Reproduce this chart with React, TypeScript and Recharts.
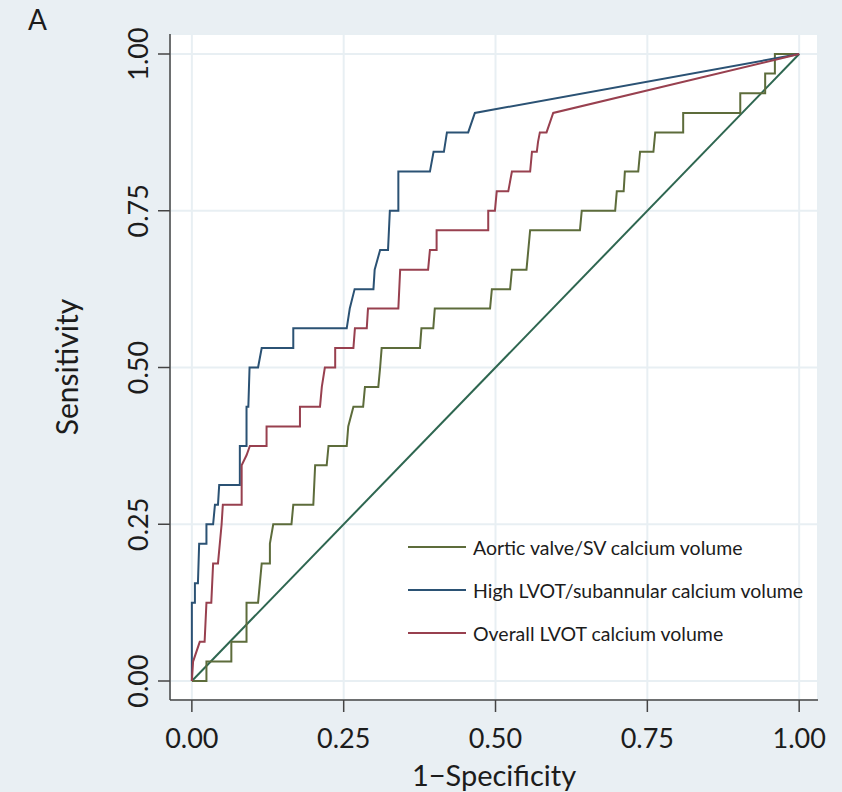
import React from 'react';
import { LineChart, Line, XAxis, YAxis, CartesianGrid, Legend } from 'recharts';

// ---- Data ----
const xTicks = [0, 0.25, 0.5, 0.75, 1];
const yTicks = [0, 0.25, 0.5, 0.75, 1];

const seriesNames = [
  'Aortic valve/SV calcium volume',
  'High LVOT/subannular calcium volume',
  'Overall LVOT calcium volume',
];

// Aortic valve/SV calcium volume (1 - specificity, sensitivity)
const aorticFpr = [0, 0.024, 0.024, 0.065, 0.065, 0.09, 0.09, 0.109, 0.112, 0.115, 0.1285, 0.1285, 0.134, 0.164, 0.167, 0.2, 0.203, 0.222, 0.225, 0.255, 0.2575, 0.266, 0.282, 0.285, 0.307, 0.31, 0.3125, 0.3756, 0.378, 0.3975, 0.4, 0.491, 0.494, 0.524, 0.527, 0.551, 0.554, 0.557, 0.639, 0.642, 0.697, 0.6997, 0.711, 0.713, 0.735, 0.738, 0.76, 0.763, 0.809, 0.809, 0.903, 0.903, 0.944, 0.944, 0.96, 0.96, 1];
const aorticTpr = [0, 0, 0.031, 0.031, 0.0625, 0.0625, 0.125, 0.125, 0.156, 0.1875, 0.1875, 0.219, 0.25, 0.25, 0.281, 0.281, 0.344, 0.344, 0.375, 0.375, 0.406, 0.4375, 0.4375, 0.469, 0.469, 0.5, 0.531, 0.531, 0.5625, 0.5625, 0.594, 0.594, 0.625, 0.625, 0.656, 0.656, 0.6875, 0.719, 0.719, 0.75, 0.75, 0.781, 0.781, 0.8125, 0.8125, 0.844, 0.844, 0.875, 0.875, 0.906, 0.906, 0.9375, 0.9375, 0.969, 0.969, 1, 1];

// High LVOT/subannular calcium volume
const highFpr = [0, 0, 0.005, 0.005, 0.01, 0.012, 0.024, 0.024, 0.035, 0.038, 0.043, 0.045, 0.079, 0.079, 0.09, 0.09, 0.093, 0.095, 0.109, 0.115, 0.167, 0.167, 0.255, 0.26, 0.268, 0.299, 0.301, 0.31, 0.323, 0.326, 0.34, 0.34, 0.392, 0.398, 0.415, 0.42, 0.455, 0.466, 1];
const highTpr = [0, 0.125, 0.125, 0.156, 0.156, 0.219, 0.219, 0.25, 0.25, 0.281, 0.281, 0.3125, 0.3125, 0.375, 0.375, 0.4375, 0.4375, 0.5, 0.5, 0.531, 0.531, 0.5625, 0.5625, 0.594, 0.625, 0.625, 0.656, 0.6875, 0.6875, 0.75, 0.75, 0.8125, 0.8125, 0.844, 0.844, 0.875, 0.875, 0.906, 1];

// Overall LVOT calcium volume
const overallFpr = [0, 0.002, 0.013, 0.021, 0.024, 0.032, 0.035, 0.043, 0.049, 0.051, 0.082, 0.082, 0.09, 0.0955, 0.123, 0.123, 0.178, 0.178, 0.211, 0.214, 0.219, 0.236, 0.236, 0.266, 0.2685, 0.288, 0.29, 0.34, 0.343, 0.389, 0.392, 0.403, 0.403, 0.488, 0.488, 0.499, 0.502, 0.521, 0.527, 0.557, 0.56, 0.568, 0.57, 0.573, 0.584, 0.595, 1];
const overallTpr = [0, 0.031, 0.0625, 0.0625, 0.125, 0.125, 0.1875, 0.1875, 0.25, 0.281, 0.281, 0.344, 0.36, 0.375, 0.375, 0.406, 0.406, 0.4375, 0.4375, 0.469, 0.5, 0.5, 0.531, 0.531, 0.5625, 0.5625, 0.594, 0.594, 0.656, 0.656, 0.6875, 0.6875, 0.719, 0.719, 0.75, 0.75, 0.781, 0.781, 0.8125, 0.8125, 0.844, 0.844, 0.86, 0.875, 0.875, 0.906, 1];

// Chance (reference) line
const refFpr = [0, 1];
const refTpr = [0, 1];

const toPoints = (xs: number[], ys: number[]) => xs.map((x, i) => ({ x, y: ys[i] }));

const aorticData = toPoints(aorticFpr, aorticTpr);
const highData = toPoints(highFpr, highTpr);
const overallData = toPoints(overallFpr, overallTpr);
const refData = toPoints(refFpr, refTpr);

// ---- Styles ----
const FONT = "Lato, 'Liberation Sans', Arial, sans-serif";
const TEXT = '#1c1c1c';
const AXIS = '#444444';
const COLORS = {
  aortic: '#5d6c3b',
  high: '#2b5274',
  overall: '#98404f',
  ref: '#2e6650',
};

const YTick = (props: any) => {
  const { x, y, payload } = props;
  const bx = x - 8;
  return (
    <text
      x={bx}
      y={y}
      transform={`rotate(-90 ${bx} ${y})`}
      textAnchor="middle"
      fontSize={27}
      fill={TEXT}
      fontFamily={FONT}
    >
      {Number(payload.value).toFixed(2)}
    </text>
  );
};

const YTitle = (props: any) => {
  const vb = props.viewBox || { x: 0, y: 34, width: 170, height: 666 };
  const cx = 78;
  const cy = vb.y + vb.height / 2;
  return (
    <text
      x={cx}
      y={cy}
      transform={`rotate(-90 ${cx} ${cy})`}
      textAnchor="middle"
      fontSize={30}
      fill={TEXT}
      fontFamily={FONT}
    >
      Sensitivity
    </text>
  );
};

const LegendContent = (props: any) => {
  const items = (props.payload || []).filter((p: any) => seriesNames.includes(p.value));
  return (
    <svg width={420} height={130} style={{ display: 'block' }}>
      {items.map((p: any, i: number) => {
        const yy = 17 + i * 43;
        return (
          <g key={p.value}>
            <line x1={3} x2={61} y1={yy} y2={yy} stroke={p.color} strokeWidth={2} />
            <text
              x={68}
              y={yy}
              dominantBaseline="central"
              fontSize={19.5}
              fill={TEXT}
              fontFamily={FONT}
            >
              {p.value}
            </text>
          </g>
        );
      })}
    </svg>
  );
};

export default function App() {
  return (
    <div
      style={{
        position: 'absolute',
        left: 0,
        top: 0,
        width: 842,
        height: 792,
        background: '#e9eff3',
        overflow: 'hidden',
      }}
    >
      <div
        style={{
          position: 'absolute',
          left: 28,
          top: 4,
          fontSize: 28,
          lineHeight: '30px',
          fontFamily: FONT,
          color: TEXT,
          zIndex: 2,
        }}
      >
        A
      </div>
      <LineChart
        width={842}
        height={792}
        margin={{ top: 34, right: 24, left: 0, bottom: 0 }}
      >
        <CartesianGrid
          fill="#ffffff"
          stroke="#e8eff3"
          strokeWidth={2}
          horizontal
          vertical
        />
        <XAxis
          type="number"
          dataKey="x"
          domain={[-0.036, 1.031]}
          ticks={xTicks}
          allowDataOverflow
          height={92}
          tickSize={12}
          tickMargin={17}
          tickFormatter={(v: number) => v.toFixed(2)}
          axisLine={{ stroke: AXIS, strokeWidth: 1.5 }}
          tickLine={{ stroke: AXIS, strokeWidth: 1.5 }}
          tick={{ fontSize: 27, fill: TEXT, fontFamily: FONT }}
          label={{
            value: '1\u2212Specificity',
            position: 'insideBottom',
            offset: 6,
            fontSize: 29,
            fill: TEXT,
            fontFamily: FONT,
          }}
        />
        <YAxis
          type="number"
          dataKey="y"
          domain={[-0.0303, 1.0319]}
          ticks={yTicks}
          allowDataOverflow
          width={170}
          tickSize={12}
          tickMargin={2}
          axisLine={{ stroke: AXIS, strokeWidth: 1.5 }}
          tickLine={{ stroke: AXIS, strokeWidth: 1.5 }}
          tick={<YTick />}
          label={<YTitle />}
        />
        <Line
          data={refData}
          dataKey="y"
          name="Reference"
          type="linear"
          stroke={COLORS.ref}
          strokeWidth={2}
          dot={false}
          legendType="none"
          isAnimationActive={false}
        />
        <Line
          data={aorticData}
          dataKey="y"
          name={seriesNames[0]}
          type="linear"
          stroke={COLORS.aortic}
          strokeWidth={2}
          dot={false}
          isAnimationActive={false}
        />
        <Line
          data={highData}
          dataKey="y"
          name={seriesNames[1]}
          type="linear"
          stroke={COLORS.high}
          strokeWidth={2}
          dot={false}
          isAnimationActive={false}
        />
        <Line
          data={overallData}
          dataKey="y"
          name={seriesNames[2]}
          type="linear"
          stroke={COLORS.overall}
          strokeWidth={2}
          dot={false}
          isAnimationActive={false}
        />
        <Legend
          layout="horizontal"
          verticalAlign="middle"
          align="center"
          content={<LegendContent />}
          wrapperStyle={{ position: 'absolute', left: 405, top: 530, width: 420, height: 130 }}
        />
      </LineChart>
    </div>
  );
}
